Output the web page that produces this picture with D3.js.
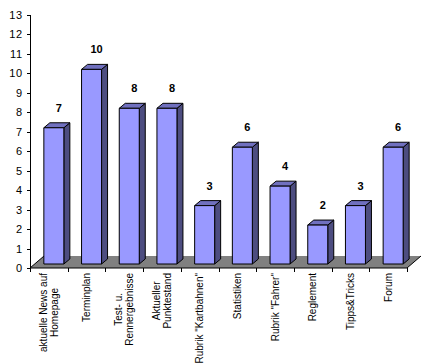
<!DOCTYPE html>
<html>
<head>
<meta charset="utf-8">
<script src="https://cdn.jsdelivr.net/npm/d3@7"></script>
<style>
  body { margin: 0; background: #fff; }
  text { font-family: "Liberation Sans", Arial, sans-serif; }
</style>
</head>
<body>
<div id="chart"></div>
<script>
// categories (line breaks as in the original axis)
var categories = [
  ["aktuelle News auf", "Homepage"],
  ["Terminplan"],
  ["Test- u.", "Rennergebnisse"],
  ["Aktueller", "Punktestand"],
  ["Rubrik \"Kartbahnen\""],
  ["Statistiken"],
  ["Rubrik \"Fahrer\""],
  ["Reglement"],
  ["Tipps&Tricks"],
  ["Forum"]
];
var values = [7, 10, 8, 8, 3, 6, 4, 2, 3, 6];
var yTicks = d3.range(0, 14);

var W = 431, H = 364;
var svg = d3.select("#chart").append("svg").attr("width", W).attr("height", H);

var x = d3.scaleBand().domain(d3.range(categories.length)).range([30, 407]);
var y = d3.scaleLinear().domain([0, 13]).range([268, 15]);

// floor depth and bar geometry
var fdx = 14, fdy = -12;
var bw = 20, bdx = 6, bdy = -5, shiftX = 5, shiftY = -4;

// floor
var y0 = y(0);
svg.append("polygon")
  .attr("points", [[30, y0], [407, y0], [407 + fdx, y0 + fdy], [30 + fdx, y0 + fdy]].join(" "))
  .attr("fill", "#808080");
svg.append("path")
  .attr("d", "M" + (30 + fdx) + "," + (y0 + fdy) + "L30," + y0 + "L407," + y0 + "L" + (407 + fdx) + "," + (y0 + fdy))
  .attr("fill", "none").attr("stroke", "#000").attr("stroke-width", 1);

// y axis
svg.append("line").attr("x1", 30.5).attr("x2", 30.5).attr("y1", y(13)).attr("y2", y0)
  .attr("stroke", "#000");
yTicks.forEach(function (t) {
  svg.append("line").attr("x1", 27).attr("x2", 30).attr("y1", Math.round(y(t)) + 0.5).attr("y2", Math.round(y(t)) + 0.5)
    .attr("stroke", "#000");
  svg.append("text").attr("x", 23).attr("y", y(t) + 4)
    .attr("text-anchor", "end").style("font-size", "11px").style("letter-spacing", "0.8px")
    .text(t);
});

// x ticks
d3.range(categories.length + 1).forEach(function (i) {
  var xx = Math.round(30 + i * x.bandwidth()) + 0.5;
  svg.append("line").attr("x1", xx).attr("x2", xx).attr("y1", y0).attr("y2", y0 + 4).attr("stroke", "#000");
});

// bars
values.forEach(function (v, i) {
  var cx = x(i) + x.bandwidth() / 2 + shiftX;
  var x1 = cx - bw / 2, x2 = cx + bw / 2;
  var yb = y0 + shiftY, yt = y(v) + shiftY;
  var g = svg.append("g").attr("stroke", "#000").attr("stroke-width", 1).attr("stroke-linejoin", "round");
  // side
  g.append("polygon")
    .attr("points", [[x2, yb], [x2 + bdx, yb + bdy], [x2 + bdx, yt + bdy], [x2, yt]].join(" "))
    .attr("fill", "#4d4d80");
  // top
  g.append("polygon")
    .attr("points", [[x1, yt], [x2, yt], [x2 + bdx, yt + bdy], [x1 + bdx, yt + bdy]].join(" "))
    .attr("fill", "#7070bf");
  // front
  g.append("rect").attr("x", x1).attr("y", yt).attr("width", bw).attr("height", yb - yt)
    .attr("fill", "#9999ff");
  // value label
  svg.append("text").attr("x", cx + 5).attr("y", yt + bdy - 11)
    .attr("text-anchor", "middle").style("font-size", "11px").style("font-weight", "bold")
    .text(v);
});

// category labels, rotated
categories.forEach(function (lines, i) {
  var cx = x(i) + x.bandwidth() / 2;
  var t = svg.append("text").attr("text-anchor", "middle").style("font-size", "10px");
  var n = lines.length;
  lines.forEach(function (s, j) {
    t.append("tspan").attr("x", 0).attr("y", (j - (n - 1) / 2) * 11 + 3.5).text(s);
  });
  var maxLen = 0;
  t.selectAll("tspan").each(function () { maxLen = Math.max(maxLen, this.getComputedTextLength()); });
  t.attr("transform", "translate(" + cx + "," + (273 + maxLen / 2) + ") rotate(-90)");
});
</script>
</body>
</html>
